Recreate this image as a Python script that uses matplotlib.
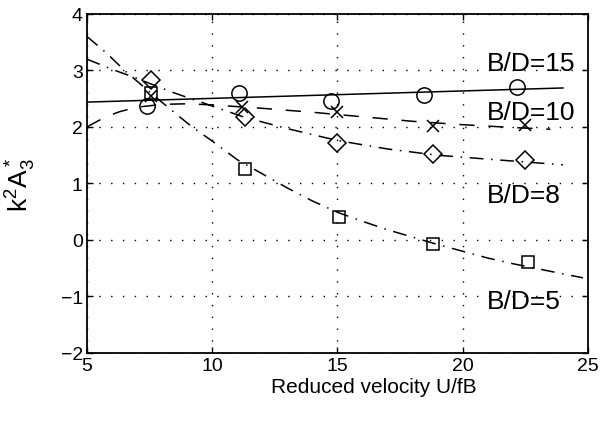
import matplotlib
matplotlib.use("Agg")
import matplotlib.pyplot as plt

plt.rcParams["font.family"] = ["Liberation Sans", "DejaVu Sans"]
plt.rcParams["mathtext.default"] = "regular"

# measured points, one list per B/D ratio
x15 = [7.4, 11.05, 14.75, 18.45, 22.15]
y15 = [2.37, 2.6, 2.46, 2.57, 2.7]
x10 = [7.55, 11.2, 15.0, 18.8, 22.5]
y10 = [2.55, 2.35, 2.27, 2.02, 2.04]
x8 = [7.55, 11.3, 15.0, 18.8, 22.5]
y8 = [2.83, 2.17, 1.72, 1.52, 1.42]
x5 = [7.55, 11.3, 15.05, 18.8, 22.6]
y5 = [2.6, 1.26, 0.41, -0.07, -0.39]

# fitted curves
fit15_x = [5, 24]
fit15_y = [2.44, 2.69]
fit10_x = [5, 5.7, 6.3, 7, 8, 9, 10, 12, 14, 16, 18, 20, 22, 23.5]
fit10_y = [2.0, 2.17, 2.27, 2.35, 2.4, 2.41, 2.39, 2.33, 2.26, 2.18, 2.1, 2.04, 1.99, 1.96]
fit8_x = [5, 6, 7, 7.5, 8.5, 10, 11.3, 13, 15, 17, 19, 21, 22.5, 24]
fit8_y = [3.2, 3.02, 2.86, 2.77, 2.6, 2.37, 2.17, 1.97, 1.76, 1.61, 1.5, 1.43, 1.38, 1.33]
fit5_x = [5, 5.8, 6.5, 7.5, 8.5, 9.2, 10, 11, 12, 13, 14, 15, 16, 17, 18, 19,
          20, 21, 22, 23, 24, 24.8]
fit5_y = [3.6, 3.3, 3.0, 2.62, 2.25, 2.0, 1.75, 1.42, 1.17, 0.92, 0.69, 0.49,
          0.33, 0.18, 0.05, -0.08, -0.2, -0.32, -0.42, -0.51, -0.6, -0.67]

labels = ["B/D=15", "B/D=10", "B/D=8", "B/D=5"]
label_x = [20.97, 20.97, 20.97, 20.97]
label_y = [3.13, 2.27, 0.8, -1.08]

fig = plt.figure(figsize=(6.04, 4.27), dpi=100)
ax = fig.add_axes([0.144, 0.171, 0.8295, 0.794])

dash = (0, (10, 9))
dashdot = (0, (9, 5, 1, 5))

ax.plot(fit15_x, fit15_y, color="black", lw=1.1, ls="-")
ax.plot(fit10_x, fit10_y, color="black", lw=1.1, ls=dash)
ax.plot(fit8_x, fit8_y, color="black", lw=1.1, ls=dashdot)
ax.plot(fit5_x, fit5_y, color="black", lw=1.1, ls=dashdot)

mk = dict(ls="none", mfc="none", mec="black", mew=1.1)
ax.plot(x15, y15, marker="o", ms=11, **mk)
ax.plot(x10, y10, marker="x", ms=9, **mk)
ax.plot(x8, y8, marker="D", ms=9, **mk)
ax.plot(x5, y5, marker="s", ms=9, **mk)

for t, lx, ly in zip(labels, label_x, label_y):
    ax.text(lx, ly, t, fontsize=19, ha="left", va="center")

ax.set_xlim(5, 25)
ax.set_ylim(-2, 4)
ax.set_xticks([5, 10, 15, 20, 25])
ax.set_yticks([-2, -1, 0, 1, 2, 3, 4])
ax.grid(True, color="black", lw=1.0, ls=(0, (1, 7.5)))
ax.tick_params(direction="in", top=True, right=True, length=4, width=1,
               labelsize=14, pad=3)
for s in ax.spines.values():
    s.set_linewidth(1.3)

# the original label sits right of the axes centre
ax.set_xlabel("Reduced velocity U/fB", fontsize=15)
ax.xaxis.set_label_coords(0.572, -0.07)
ax.set_ylabel(r"k$^2$A$_3^*$", fontsize=19)
ax.yaxis.set_label_coords(-0.098, 0.5)

fig.savefig("out.png", dpi=100)
